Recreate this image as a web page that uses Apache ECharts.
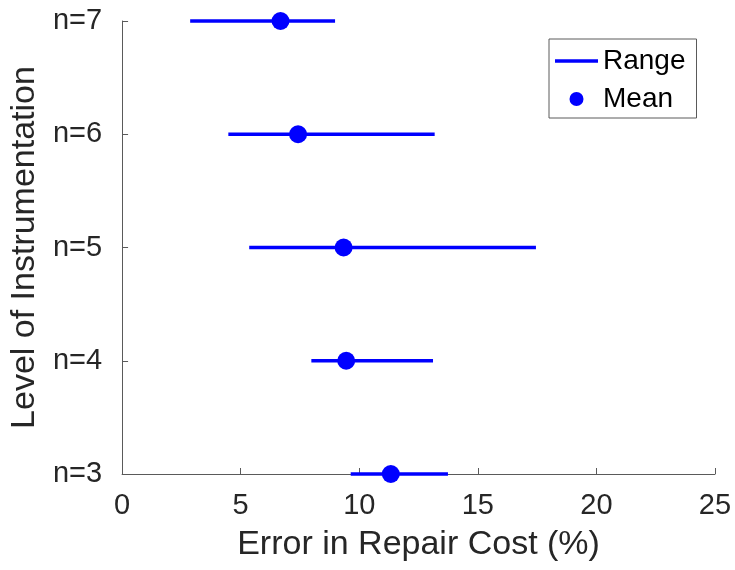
<!DOCTYPE html>
<html>
<head>
<meta charset="utf-8">
<script src="https://cdn.jsdelivr.net/npm/echarts@6/dist/echarts.min.js"></script>
<style>
  html, body { margin: 0; padding: 0; background: #fff; }
  #chart { width: 735px; height: 570px; }
</style>
</head>
<body>
<div id="chart"></div>
<script>
// Instrumentation levels, bottom to top
const levels = ['n=3', 'n=4', 'n=5', 'n=6', 'n=7'];
// Error range (min / max) and mean error, in percent
const rangeLow  = [9.64, 7.98, 5.36, 4.48, 2.87];
const rangeHigh = [13.74, 13.11, 17.45, 13.18, 8.98];
const meanErr   = [11.33, 9.45, 9.34, 7.42, 6.68];
const xTicks = { min: 0, max: 25, step: 5 };

const BLUE = '#0000ff';
const AXIS = '#262626';
const FONT = '"Liberation Sans", Arial, Helvetica, sans-serif';

const rangeData = levels.map((l, i) => [rangeLow[i], rangeHigh[i], i]);
const meanData = levels.map((l, i) => [meanErr[i], l]);

const chart = echarts.init(document.getElementById('chart'), null, { renderer: 'canvas' });
chart.setOption({
  animation: false,
  backgroundColor: '#fff',
  grid: { left: 119, right: 20, top: 21, bottom: 96, containLabel: false },
  xAxis: {
    type: 'value',
    min: xTicks.min, max: xTicks.max, interval: xTicks.step,
    name: 'Error in Repair Cost (%)',
    nameLocation: 'middle',
    nameGap: 54,
    nameTextStyle: { fontFamily: FONT, fontSize: 34, color: AXIS },
    axisLine: { show: true, lineStyle: { color: '#5a5a5a', width: 1 } },
    axisTick: { show: true, inside: true, length: 6, lineStyle: { color: '#5a5a5a' } },
    axisLabel: { fontFamily: FONT, fontSize: 29, color: AXIS, margin: 17 },
    splitLine: { show: false }
  },
  yAxis: {
    type: 'category',
    data: levels,
    boundaryGap: false,
    name: 'Level of Instrumentation',
    nameLocation: 'middle',
    nameGap: 77,
    nameRotate: 90,
    nameTextStyle: { fontFamily: FONT, fontSize: 34, color: AXIS },
    axisLine: { show: true, lineStyle: { color: '#5a5a5a', width: 1 } },
    axisTick: { show: true, inside: true, length: 6, alignWithLabel: true, lineStyle: { color: '#5a5a5a' } },
    axisLabel: { fontFamily: FONT, fontSize: 29, color: AXIS, margin: 20 },
    splitLine: { show: false }
  },
  legend: {
    orient: 'vertical',
    left: 549,
    top: 39,
    padding: [8, 11, 5, 6],
    itemWidth: 43,
    itemHeight: 14,
    itemGap: 10,
    symbolKeepAspect: true,
    borderColor: '#5a5a5a',
    borderWidth: 1,
    backgroundColor: '#fff',
    textStyle: { fontFamily: FONT, fontSize: 28, color: '#000', lineHeight: 28 },
    data: [
      { name: 'Range', icon: 'path://M0,0H43V3.5H0Z', itemStyle: { color: BLUE, opacity: 1 } },
      { name: 'Mean', icon: 'circle', itemStyle: { color: BLUE, opacity: 1 } }
    ]
  },
  series: [
    {
      name: 'Range',
      type: 'custom',
      clip: false,
      itemStyle: { color: BLUE },
      data: rangeData,
      encode: { x: [0, 1], y: 2 },
      renderItem: function (params, api) {
        const p0 = api.coord([api.value(0), api.value(2)]);
        const p1 = api.coord([api.value(1), api.value(2)]);
        return {
          type: 'line',
          shape: { x1: p0[0], y1: p0[1], x2: p1[0], y2: p1[1] },
          style: { stroke: BLUE, lineWidth: 3.5 }
        };
      },
      z: 2
    },
    {
      name: 'Mean',
      type: 'scatter',
      clip: false,
      symbol: 'circle',
      symbolSize: 18,
      itemStyle: { color: BLUE, opacity: 1 },
      data: meanData,
      z: 3
    }
  ]
});
</script>
</body>
</html>
